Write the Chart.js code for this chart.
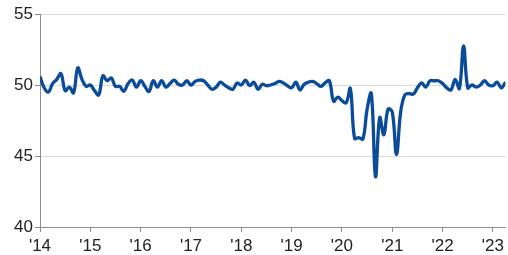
<!DOCTYPE html>
<html>
<head>
<meta charset="utf-8">
<script src="https://cdn.jsdelivr.net/npm/chart.js@4/dist/chart.umd.min.js"></script>
<style>
html, body { margin: 0; padding: 0; background: #fff; }
#wrap { width: 508px; height: 255px; }
</style>
</head>
<body>
<div id="wrap"><canvas id="canvas"></canvas></div>
<script>
// monthly index, Jan 2014 .. Apr 2023
const yearLabels = ["'14", "'15", "'16", "'17", "'18", "'19", "'20", "'21", "'22", "'23"];
const values = [
  50.6, 49.8, 49.5, 50.1, 50.4, 50.8, 49.6, 49.85, 49.45, 51.2, 50.4, 49.9,
  50.0, 49.6, 49.3, 50.65, 50.3, 50.5, 49.9, 49.9, 49.55, 50.1, 50.35, 49.85,
  50.3, 49.9, 49.55, 50.3, 49.85, 50.3, 49.85, 50.1, 50.35, 50.05, 50.0, 50.3,
  50.0, 50.25, 50.35, 50.3, 50.0, 49.7, 49.85, 50.2, 50.0, 49.8, 49.7, 50.15,
  50.0, 50.35, 49.95, 50.2, 49.7, 50.05, 49.95, 50.0, 50.1, 50.25, 50.15, 49.95,
  49.8, 50.2, 49.65, 50.05, 50.2, 50.25, 50.1, 49.9, 50.15, 50.3, 48.85, 49.15,
  48.9, 48.75, 49.75, 46.25, 46.3, 46.2, 48.3, 49.4, 43.55, 47.7, 46.5, 48.3,
  48.1, 45.1, 48.1, 49.3, 49.4, 49.35, 49.8, 50.15, 49.85, 50.3, 50.3, 50.3,
  50.1, 49.8, 49.65, 50.4, 49.75, 52.75, 49.8, 50.0, 49.85, 50.0, 50.3, 50.0,
  49.95, 50.2, 49.8, 50.2
];

const points = values.map((v, i) => ({ x: i, y: v }));
const tickFont = { family: 'Liberation Sans, Arial, sans-serif', size: 17 };

new Chart(document.getElementById('canvas'), {
  type: 'line',
  data: {
    datasets: [{
      data: points,
      borderColor: '#0a4c9a',
      borderWidth: 3.3,
      pointRadius: 0,
      tension: 0.4,
      fill: false
    }]
  },
  options: {
    responsive: true,
    maintainAspectRatio: false,
    animation: false,
    layout: { padding: { top: 14, right: 0, left: 0, bottom: 0 } },
    plugins: { legend: { display: false }, tooltip: { enabled: false } },
    scales: {
      x: {
        type: 'linear',
        min: 0,
        max: values.length - 1,
        afterBuildTicks: (scale) => {
          scale.ticks = yearLabels.map((l, k) => ({ value: k * 12 }));
        },
        afterFit: (scale) => { scale.height = 28; },
        grid: { drawOnChartArea: false, drawTicks: true, tickLength: 5, color: '#8c8c8c' },
        border: { color: '#8c8c8c' },
        ticks: {
          font: tickFont,
          color: '#222',
          padding: 4,
          maxRotation: 0,
          autoSkip: false,
          callback: (v) => yearLabels[Math.round(v / 12)]
        }
      },
      y: {
        min: 40,
        max: 55,
        afterFit: (scale) => { scale.width = 40; },
        grid: { color: (c) => c.tick.value === 40 ? '#8c8c8c' : '#d9d9d9', tickColor: '#8c8c8c', tickLength: 5 },
        border: { color: '#8c8c8c' },
        ticks: { stepSize: 5, font: tickFont, color: '#222', padding: 2 }
      }
    }
  }
});
</script>
</body>
</html>
